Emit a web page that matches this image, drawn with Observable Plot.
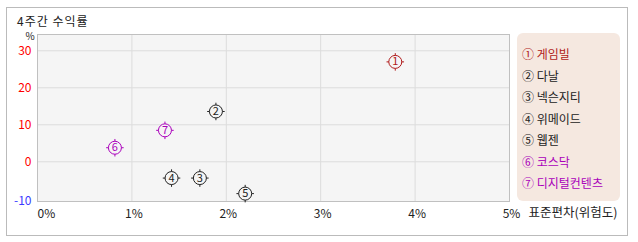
<!DOCTYPE html>
<html><head><meta charset="utf-8">
<script src="https://cdn.jsdelivr.net/npm/d3@7"></script>
<script src="https://cdn.jsdelivr.net/npm/@observablehq/plot@0.6"></script>
<style>
body{margin:0;background:#fff;font-family:"Noto Sans CJK KR",sans-serif;}
#wrap{position:relative;width:638px;height:242px;overflow:hidden;}
#border{position:absolute;left:6px;top:7px;width:620px;height:227px;border:1px solid #bbb;}
#title{position:absolute;left:17px;top:12px;font-size:12px;color:#222;letter-spacing:1px;}
#chart{position:absolute;left:0;top:0;}
#legend{position:absolute;left:517px;top:33px;width:103px;height:168px;background:#f5e8e0;border-radius:6px;}
.item{position:absolute;left:5px;font-size:12px;line-height:14px;white-space:nowrap;}
</style></head>
<body>
<div id="wrap"><div id="border"></div><div id="title">4주간 수익률</div><div id="chart"></div><div id="legend"></div></div>
<script>
const names = ["게임빌","다날","넥슨지티","위메이드","웹젠","코스닥","디지털컨텐츠"];
const marks = ["①","②","③","④","⑤","⑥","⑦"];
const risk = [3.79, 1.89, 1.72, 1.42, 2.20, 0.82, 1.35];
const ret = [27.0, 13.6, -4.4, -4.4, -8.6, 3.8, 8.5];
const xTicks = [0,1,2,3,4,5];
const yTicks = [-10,0,10,20,30];
const xTitle = "표준편차(위험도)";
const yUnit = "%";

const palette = {"게임빌":"#b01a1a","코스닥":"#aa00bb","디지털컨텐츠":"#aa00bb"};
const colorOf = n => palette[n] || "#222";

const data = names.map((n,i)=>({name:n, num:String(i+1), x:risk[i], y:ret[i]}));

const chart = Plot.plot({
  width:638, height:242,
  marginLeft:37, marginRight:129, marginTop:34, marginBottom:41,
  x:{domain:[0,5], axis:null},
  y:{domain:[-10.73,34.4], axis:null},
  style:{fontFamily:"Noto Sans CJK KR, sans-serif", fontSize:"12px", background:"transparent"},
  marks:[
    Plot.frame({fill:"#f5f5f5", stroke:null}),
    Plot.ruleX(xTicks.filter(d=>d>0&&d<5), {stroke:"#dcdcdc"}),
    Plot.ruleY(yTicks.filter(d=>d>-10), {stroke:"#dcdcdc"}),
    Plot.frame({stroke:"#c0c0c0"}),
    Plot.text(yTicks.filter(d=>d>-10), {y:d=>d, text:d=>String(d), frameAnchor:"left", dx:-6, textAnchor:"end", fill:"#ff0000"}),
    Plot.text(yTicks.filter(d=>d===-10), {y:d=>d, text:d=>String(d), frameAnchor:"left", dx:-6, dy:2, textAnchor:"end", fill:"#3a3aff"}),
    Plot.text(xTicks.filter(d=>d>0), {x:d=>d, text:d=>d+"%", frameAnchor:"bottom", dy:16, dx:2, fill:"#222"}),
    Plot.text(xTicks.filter(d=>d===0), {x:d=>d, text:d=>d+"%", frameAnchor:"bottom", dy:16, dx:0, textAnchor:"start", fill:"#222"}),
    Plot.text([xTitle], {text:d=>d, frameAnchor:"bottom-right", dx:19, dy:15, textAnchor:"start", fill:"#222", fontSize:12.5, letterSpacing:"0.5px"}),
    Plot.text([yUnit], {text:d=>d, frameAnchor:"top-left", dx:-12, dy:-2, fontSize:10, fill:"#222"}),
    Plot.dot(data, {x:"x", y:"y", symbol:"plus", r:5.7, stroke:d=>colorOf(d.name), strokeWidth:1}),
    Plot.dot(data, {x:"x", y:"y", r:6.5, fill:"#f5f5f5", stroke:d=>colorOf(d.name), strokeWidth:1}),
    Plot.text(data, {x:"x", y:"y", text:"num", fill:d=>colorOf(d.name), fontSize:11})
  ]
});
document.getElementById("chart").appendChild(chart);

const lg = document.getElementById("legend");
names.forEach((n,i)=>{
  const el = document.createElement("div");
  el.className="item";
  el.style.top = (14 + i*21.5) + "px";
  el.style.color = colorOf(n);
  el.textContent = marks[i] + " " + n;
  lg.appendChild(el);
});
</script>
</body></html>
